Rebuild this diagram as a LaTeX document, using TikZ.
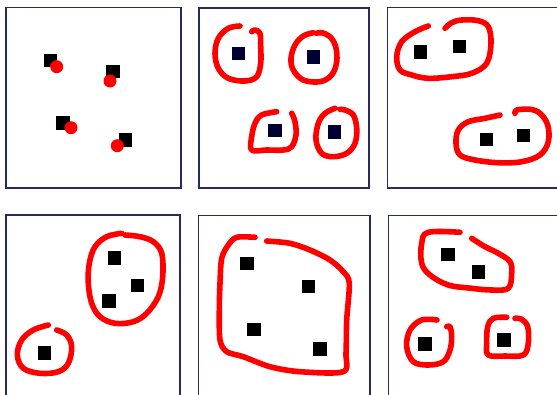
\documentclass[tikz,border=0pt]{standalone}
\begin{document}
\begin{tikzpicture}[x=1pt,y=-1pt,
  frame/.style={draw={rgb,255:red,40;green,40;blue,100},line width=1.4pt},
  sq/.style={fill=black,inner sep=0pt,minimum size=13.5pt,draw=none},
  nsq/.style={fill={rgb,255:red,0;green,0;blue,50},inner sep=0pt,minimum size=13.5pt,draw=none},
  dotc/.style={fill=red,draw=none},
  loop/.style={draw=red,line width=5.6pt,line cap=round,line join=round}]
\useasboundingbox (0,0) rectangle (557,394);
\clip (0,0) rectangle (557,394);
% frames
\draw[frame] (6,7.5) rectangle (181,188);
\draw[frame] (199,8) rectangle (369,188);
\draw[frame] (387.5,7.5) rectangle (562,188);
\draw[frame] (6,215) rectangle (180,400);
\draw[frame] (198.5,215.5) rectangle (370,400);
\draw[frame] (388.5,215.5) rectangle (562,400);
% panel 1
\node[sq] (a1) at (50.3,60.5) {};
\node[sq] (a2) at (113,71.3) {};
\node[sq] (a3) at (62.8,123) {};
\node[sq] (a4) at (125.7,140) {};
\fill[dotc] (56.7,66.7) circle (6.5);
\fill[dotc] (110,81) circle (6.5);
\fill[dotc] (71,127.7) circle (6.5);
\fill[dotc] (117.3,145.7) circle (6.5);
% panel 2
\node[nsq] (b1) at (238.3,53.7) {};
\node[nsq] (b2) at (313.3,57) {};
\node[nsq] (b3) at (275.2,130.3) {};
\node[nsq] (b4) at (334.7,132.2) {};
\draw[loop] plot[smooth,tension=0.6] coordinates {(240,26) (228.3,28.3) (218.3,38.3) (215,53.3) (218.3,68.3) (228.3,78.3) (245,81) (256.7,76.7) (260.7,63.3) (260.7,46.7) (260,33.3) (255,30) (251.7,31.7)};
\draw[loop] plot[smooth,tension=0.6] coordinates {(313.3,32.7) (303.3,36) (295,45) (291,58.3) (293.3,70) (303.3,80) (320,81.7) (331.7,75) (336.7,61.7) (335.7,46.7) (330,36.7) (321.7,32.7) (316.7,33.3)};
\draw[loop] plot[smooth,tension=0.6] coordinates {(276.7,111.7) (261.7,115) (255,123.3) (251.7,136.7) (251.7,150) (266.7,150) (283.3,150) (291.7,146.7) (296,135) (295,121.7) (291.7,113.3)};
\draw[loop] plot[smooth,tension=0.6] coordinates {(335,108.3) (325,113.3) (318.3,123.3) (316,140) (321.7,153.3) (333.3,156.7) (346.7,153.3) (355,143.3) (356.7,128.3) (353.3,115) (345,110) (340,109.3)};
% panel 3
\node[sq] (c1) at (420.3,52) {};
\node[sq] (c2) at (459.7,46.3) {};
\node[sq] (c3) at (486.3,139.5) {};
\node[sq] (c4) at (523.7,135.5) {};
\draw[loop] plot[smooth,tension=0.6] coordinates {(428.3,26) (415,31.7) (401.7,41.7) (396.7,56.7) (400,70) (411.7,75) (428.3,78.3) (451.7,76.7) (471.7,73.3) (486.7,63.3) (491,43.3) (488.3,26.7) (478.3,20.7) (461.7,20) (451.7,22.7) (445,28.3)};
\draw[loop] plot[smooth,tension=0.6] coordinates {(500,115) (485,118.3) (468.3,121.7) (458.3,130) (456,143.3) (460,155) (475,160) (498.3,162.7) (521.7,161.7) (540,155) (548.3,141.7) (547.7,125) (540,113.3) (530,109.3) (516.7,110) (515,113.3)};
% panel 4
\node[sq] (d1) at (114.3,258) {};
\node[sq] (d2) at (137.7,285.5) {};
\node[sq] (d3) at (108.8,301.2) {};
\node[sq] (d4) at (44.5,352.8) {};
\draw[loop] plot[smooth,tension=0.6] coordinates {(121.7,233.3) (106.7,236.7) (95,246.7) (89.3,263.3) (88.3,283.3) (91.7,303.3) (100,316.7) (115,323.3) (133.3,321.7) (146.7,313.3) (158.3,296.7) (162.7,276.7) (161.7,253.3) (153.3,241.7) (140,236.7) (125,235)};
\draw[loop] plot[smooth,tension=0.6] coordinates {(48.3,325) (33.3,330) (21.7,340) (17.3,355) (23.3,368.3) (40,373.3) (58.3,371.7) (68.3,363.3) (71.7,346.7) (66.7,335) (56.7,330)};
% panel 5
\node[sq] (e1) at (247,263.7) {};
\node[sq] (e2) at (308.7,286.3) {};
\node[sq] (e3) at (253.8,329.7) {};
\node[sq] (e4) at (320,349.2) {};
\draw[loop] plot[smooth,tension=0.5] coordinates {(255,237.3) (236.7,237.3) (228.3,245) (221.7,258.3) (220,283.3) (219.3,310) (220,340) (226.7,351.7) (243.3,356.7) (270,366.7) (300,371.7) (343.3,371.7) (346,353.3) (346.7,320) (349.3,283.3) (343.3,271.7) (330,260) (310,250) (290,243.3) (266.7,241)};
% panel 6
\node[sq] (f1) at (447.8,254.7) {};
\node[sq] (f2) at (478.7,272.2) {};
\node[sq] (f3) at (425,344.2) {};
\node[sq] (f4) at (503.8,340) {};
\draw[loop] plot[smooth,tension=0.6] coordinates {(460,232.3) (428.3,232.3) (421.7,243.3) (421.7,263.3) (430,275) (448.3,285) (471.7,288.3) (491.7,290) (508.3,288.3) (511.7,273.3) (510,261.7) (498.3,253.3) (485,246.7) (471.7,238.3)};
\draw[loop] plot[smooth,tension=0.6] coordinates {(437,320) (421.7,320) (410,330) (406.7,346.7) (413.3,361.7) (428.3,365) (443.3,361.7) (450,350) (451.7,336.7) (450,326.7) (446.7,326.7)};
\draw[loop] plot[smooth,tension=0.6] coordinates {(506.7,317.3) (493.3,318.3) (487.7,326.7) (486.7,343.3) (488.3,355) (505,356) (523.3,355) (528.3,343.3) (527.7,326.7) (521.7,319.3) (515,318.3)};
\end{tikzpicture}
\end{document}
